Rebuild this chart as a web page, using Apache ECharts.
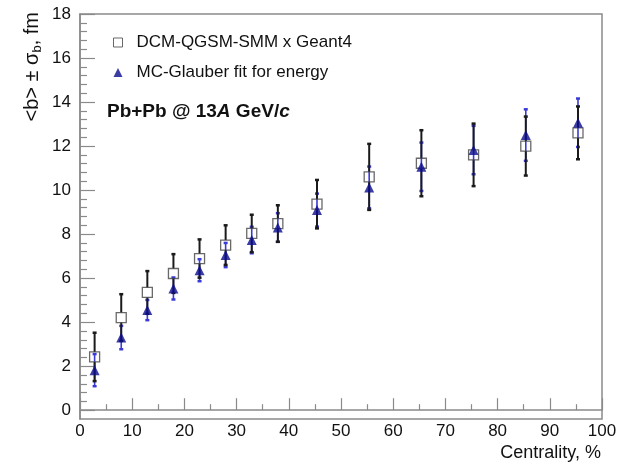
<!DOCTYPE html>
<html>
<head>
<meta charset="utf-8">
<script src="https://cdn.jsdelivr.net/npm/echarts@6/dist/echarts.min.js"></script>
<style>html,body{margin:0;padding:0;background:#fff}#c{width:620px;height:464px}</style>
</head>
<body>
<div id="c"></div>
<script>
// ---- data ----
const centrality = [2.8, 7.9, 12.9, 17.9, 22.9, 27.9, 32.9, 37.9, 45.4, 55.4, 65.4, 75.4, 85.4, 95.4];
const dcmMean  = [2.42, 4.21, 5.35, 6.21, 6.89, 7.5, 8.03, 8.48, 9.36, 10.6, 11.22, 11.6, 12.0, 12.6];
const dcmSigma = [1.1, 1.06, 0.97, 0.88, 0.87, 0.9, 0.85, 0.83, 1.1, 1.5, 1.5, 1.42, 1.34, 1.2];
const mcgMean  = [1.82, 3.3, 4.55, 5.53, 6.36, 7.05, 7.73, 8.3, 9.09, 10.12, 11.06, 11.82, 12.5, 13.06];
const mcgSigma = [0.73, 0.53, 0.46, 0.5, 0.5, 0.55, 0.6, 0.65, 0.75, 0.95, 1.1, 1.1, 1.17, 1.1];
const yTickLabels = [0, 2, 4, 6, 8, 10, 12, 14, 16, 18];
const xTickLabels = [0, 10, 20, 30, 40, 50, 60, 70, 80, 90, 100];
const seriesNames = ['DCM-QGSM-SMM x Geant4', 'MC-Glauber fit for energy'];

const FONT = 'Liberation Sans, Arial, Helvetica, sans-serif';
const minorY = [];
for (let i = 1; i < 46; i++) { const v = +(-0.4 + 0.4 * i).toFixed(2); if (Math.abs(v / 2 - Math.round(v / 2)) > 1e-6) minorY.push(v); }

const dcmPts = centrality.map((x, i) => [x, dcmMean[i]]);
const mcgPts = centrality.map((x, i) => [x, mcgMean[i]]);
const dcmErr = centrality.map((x, i) => [x, dcmMean[i] - dcmSigma[i], dcmMean[i] + dcmSigma[i], dcmMean[i]]);
const mcgErr = centrality.map((x, i) => [x, mcgMean[i] - mcgSigma[i], mcgMean[i] + mcgSigma[i], mcgMean[i]]);

function errRenderer(color, width, gap) {
  return function (params, api) {
    const x = api.value(0);
    const lo = api.coord([x, api.value(1)]);
    const hi = api.coord([x, api.value(2)]);
    const c = api.coord([x, api.value(3)]);
    const st = { stroke: color, lineWidth: width };
    const children = [];
    if (gap > 0) {
      children.push({ type: 'line', shape: { x1: hi[0], y1: hi[1], x2: c[0], y2: c[1] - gap }, style: st });
      children.push({ type: 'line', shape: { x1: c[0], y1: c[1] + gap, x2: lo[0], y2: lo[1] }, style: st });
    } else {
      children.push({ type: 'line', shape: { x1: hi[0], y1: hi[1], x2: lo[0], y2: lo[1] }, style: st });
    }
    children.push({ type: 'line', shape: { x1: hi[0] - 2, y1: hi[1], x2: hi[0] + 2, y2: hi[1] }, style: { stroke: color, lineWidth: 2.5 } });
    children.push({ type: 'line', shape: { x1: lo[0] - 2, y1: lo[1], x2: lo[0] + 2, y2: lo[1] }, style: { stroke: color, lineWidth: 2.5 } });
    return { type: 'group', children: children };
  };
}

const chart = echarts.init(document.getElementById('c'), null, { renderer: 'canvas' });
chart.setOption({
  backgroundColor: '#fff',
  animation: false,
  grid: { left: 80, right: 18, top: 14, bottom: 45, containLabel: false, outerBoundsMode: 'none',
          show: true, borderColor: '#8a8a8a', borderWidth: 1.5 },
  legend: {
    orient: 'vertical', left: 108, top: 29, itemGap: 13, itemWidth: 9, itemHeight: 9,
    data: seriesNames,
    itemStyle: { borderWidth: 1 },
    textStyle: { fontFamily: FONT, fontSize: 17, color: '#111', padding: [0, 0, 0, 9] }
  },
  graphic: [{
    type: 'text', left: 107, top: 102,
    style: {
      text: '{b|Pb+Pb @ 13}{bi|A}{b| GeV/}{bi|c}',
      rich: {
        b: { fontFamily: FONT, fontSize: 19, fontWeight: 'bold', fill: '#111' },
        bi: { fontFamily: FONT, fontSize: 19, fontWeight: 'bold', fontStyle: 'italic', fill: '#111' }
      }
    }
  }],
  xAxis: {
    type: 'value', min: 0, max: 100, interval: 10,
    name: 'Centrality, %', nameLocation: 'end', nameGap: -1, nameMoveOverlap: false,
    nameTextStyle: { fontFamily: FONT, fontSize: 18, color: '#111', align: 'right', verticalAlign: 'top', padding: [34, 0, 0, 0] },
    axisLine: { show: true, lineStyle: { color: '#8a8a8a', width: 1.5 } },
    axisTick: { show: true, inside: true, length: 12, lineStyle: { color: '#8a8a8a', width: 1.2 } },
    minorTick: { show: true, splitNumber: 2, length: 6, lineStyle: { color: '#8a8a8a', width: 1.2 } },
    axisLabel: { fontFamily: FONT, fontSize: 17, color: '#111', margin: 4, customValues: xTickLabels },
    splitLine: { show: false }
  },
  yAxis: [{
    type: 'value', min: -0.4, max: 18,
    name: '<b> ± σ{sub|b}, fm', nameLocation: 'end', nameGap: 2, nameRotate: 90, nameMoveOverlap: false,
    nameTextStyle: {
      fontFamily: FONT, fontSize: 20, color: '#111', align: 'right', verticalAlign: 'bottom',
      lineHeight: 24, padding: [0, 0, 36, 0],
      rich: { sub: { fontFamily: FONT, fontSize: 13, color: '#111', verticalAlign: 'bottom', lineHeight: 12 } }
    },
    axisLine: { show: true, lineStyle: { color: '#8a8a8a', width: 1.5 } },
    axisTick: { show: true, inside: true, length: 15, customValues: yTickLabels, lineStyle: { color: '#8a8a8a', width: 1.2 } },
    axisLabel: { fontFamily: FONT, fontSize: 17, color: '#111', margin: 9, customValues: yTickLabels },
    splitLine: { show: false }
  }, {
    type: 'value', min: -0.4, max: 18, position: 'left',
    axisLine: { show: false },
    axisTick: { show: true, inside: true, length: 7, customValues: minorY, lineStyle: { color: '#8a8a8a', width: 1.2 } },
    axisLabel: { show: false },
    splitLine: { show: false }
  }],
  series: [
    { type: 'custom', name: 'mcgErr', data: mcgErr, renderItem: errRenderer('#3a3ad6', 1.6, 0), z: 2, silent: true },
    { type: 'custom', name: 'dcmErr', data: dcmErr, renderItem: errRenderer('#1a1a1a', 2, 5), z: 3, silent: true },
    {
      type: 'scatter', name: seriesNames[0], data: dcmPts, symbol: 'rect', symbolSize: 10, z: 4,
      itemStyle: { color: 'rgba(255,255,255,0)', borderColor: '#444', borderWidth: 1.3 }
    },
    {
      type: 'scatter', name: seriesNames[1], data: mcgPts, symbol: 'triangle', symbolSize: 10, z: 5,
      itemStyle: { color: '#0b0b8f' }
    }
  ]
});
</script>
</body>
</html>
